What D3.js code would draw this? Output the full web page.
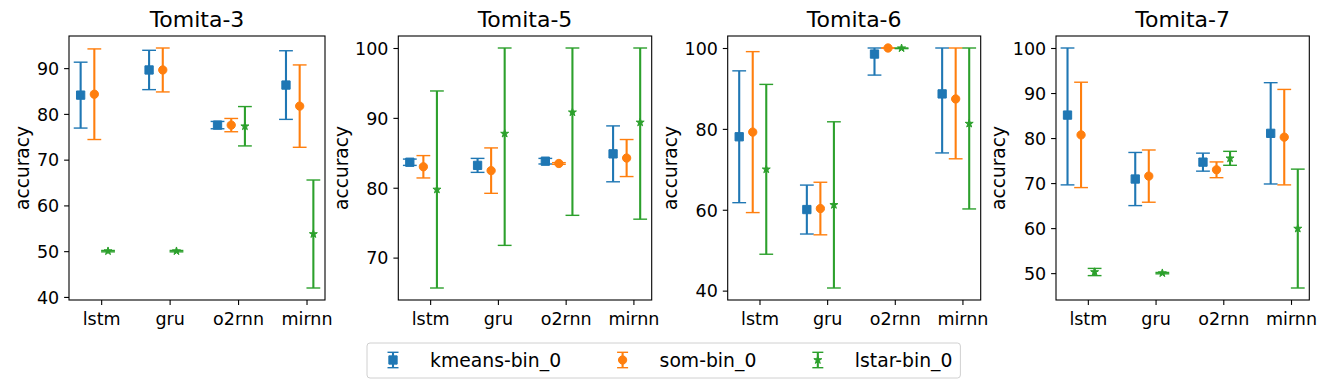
<!DOCTYPE html>
<html>
<head>
<meta charset="utf-8">
<script src="https://cdn.jsdelivr.net/npm/d3@7"></script>
<style>
body { margin: 0; background: #fff; }
text { font-family: "DejaVu Sans", sans-serif; fill: #000; }
</style>
</head>
<body>
<svg id="chart" width="1329" height="388"></svg>
<script>
const models = ["lstm", "gru", "o2rnn", "mirnn"];
const methods = ["kmeans-bin_0", "som-bin_0", "lstar-bin_0"];
const colors = ["#1f77b4", "#ff7f0e", "#2ca02c"];
const offsets = [-0.3, -0.1, 0.1];

// mean accuracy, rows = kmeans, som, lstar ; cols = lstm, gru, o2rnn, mirnn
const tomita3Mean = [[84.1, 89.6, 77.55, 86.3], [84.3, 89.6, 77.55, 81.7], [50.0, 50.0, 77.3, 53.75]];
const tomita3Std  = [[7.2, 4.3, 0.8, 7.5], [9.9, 4.8, 1.45, 9.0], [0.15, 0.15, 4.3, 11.8]];
const tomita5Mean = [[83.65, 83.2, 83.8, 84.85], [83.0, 82.45, 83.47, 84.25], [79.75, 87.75, 90.8, 89.35]];
const tomita5Std  = [[0.45, 1.0, 0.4, 4.0], [1.6, 3.25, 0.12, 2.65], [14.1, 16.0, 14.75, 13.85]];
const tomita6Mean = [[78.05, 60.05, 98.5, 88.65], [79.2, 60.3, 100.0, 87.4], [70.0, 61.2, 99.95, 81.3]];
const tomita6Std  = [[16.3, 6.05, 5.2, 14.6], [19.9, 6.5, 0.0, 14.8], [21.0, 20.55, 0.1, 21.1]];
const tomita7Mean = [[85.1, 70.9, 74.65, 81.05], [80.7, 71.55, 72.95, 80.2], [50.25, 50.0, 75.5, 59.9]];
const tomita7Std  = [[15.5, 5.9, 2.0, 11.25], [11.7, 5.8, 1.75, 10.6], [0.8, 0.15, 1.55, 13.2]];

const yTicks3 = [40, 50, 60, 70, 80, 90];
const yTicks5 = [70, 80, 90, 100];
const yTicks6 = [40, 60, 80, 100];
const yTicks7 = [50, 60, 70, 80, 90, 100];

const panels = [
    { title: "Tomita-3", mean: tomita3Mean, std: tomita3Std, ticks: yTicks3, left: 69, right: 325 },
    { title: "Tomita-5", mean: tomita5Mean, std: tomita5Std, ticks: yTicks5, left: 398.3, right: 651.7 },
    { title: "Tomita-6", mean: tomita6Mean, std: tomita6Std, ticks: yTicks6, left: 727.7, right: 980.7 },
    { title: "Tomita-7", mean: tomita7Mean, std: tomita7Std, ticks: yTicks7, left: 1056, right: 1309.3 }
];
const plotTop = 36, plotBottom = 300;
const capHalf = 6.9;

const svg = d3.select("#chart");

function markerPath(k) {
    if (k === 0) return d3.symbol(d3.symbolSquare, 8.3 * 8.3)();
    if (k === 1) return d3.symbol(d3.symbolCircle, Math.PI * 4.15 * 4.15)();
    return d3.symbol(d3.symbolStar, 4.2 * 4.2 / 0.8908)();
}

panels.forEach(p => {
    const xmin = d3.min(offsets), xmax = models.length - 1 + d3.max(offsets);
    const xpad = (xmax - xmin) * 0.05;
    const x = d3.scaleLinear().domain([xmin - xpad, xmax + xpad]).range([p.left, p.right]);

    // errorbar extents, upper end capped at 100
    const bars = [];
    p.mean.forEach((row, k) => row.forEach((m, i) => {
        const s = p.std[k][i];
        bars.push({ k, i, m, lo: m - s, hi: Math.min(100, m + s) });
    }));
    const ylo = d3.min(bars, d => d.lo), yhi = d3.max(bars, d => d.hi);
    const ypad = (yhi - ylo) * 0.05;
    const y = d3.scaleLinear().domain([ylo - ypad, yhi + ypad]).range([plotBottom, plotTop]);

    const g = svg.append("g");

    const xAxis = g.append("g")
        .attr("transform", `translate(0,${plotBottom})`)
        .call(d3.axisBottom(x).tickValues(d3.range(models.length)).tickFormat(i => models[i])
            .tickSize(4.9).tickSizeOuter(0).tickPadding(4.9));
    const yAxis = g.append("g")
        .attr("transform", `translate(${p.left},0)`)
        .call(d3.axisLeft(y).tickValues(p.ticks).tickSize(4.9).tickSizeOuter(0).tickPadding(4.9));
    [xAxis, yAxis].forEach(a => {
        a.select(".domain").remove();
        a.selectAll(".tick line").attr("stroke", "#000").attr("stroke-width", 1.1);
        a.selectAll(".tick text").attr("font-size", "17.5px").attr("font-family", "DejaVu Sans");
    });
    xAxis.selectAll(".tick text").attr("dy", "0.88em");
    yAxis.selectAll(".tick text").attr("dy", "0.36em");

    g.append("rect")
        .attr("x", p.left).attr("y", plotTop)
        .attr("width", p.right - p.left).attr("height", plotBottom - plotTop)
        .attr("fill", "none").attr("stroke", "#000").attr("stroke-width", 1.1);

    // bbox is in the axis group's own coords, so add the translate back
    const yb = yAxis.node().getBBox();
    g.append("text")
        .attr("transform", `translate(${p.left + yb.x - 14},${(plotTop + plotBottom) / 2}) rotate(-90)`)
        .attr("text-anchor", "middle")
        .attr("dominant-baseline", "central")
        .attr("font-size", "18.6px")
        .text("accuracy");

    g.append("text")
        .attr("x", (p.left + p.right) / 2).attr("y", 27)
        .attr("text-anchor", "middle")
        .attr("font-size", "22px")
        .text(p.title);

    methods.forEach((name, k) => {
        const sg = g.append("g");
        const data = bars.filter(d => d.k === k);
        const cx = d => x(d.i + offsets[k]);
        sg.selectAll("line.bar").data(data).enter().append("line")
            .attr("x1", cx).attr("x2", cx)
            .attr("y1", d => y(d.lo)).attr("y2", d => y(d.hi))
            .attr("stroke", colors[k]).attr("stroke-width", 2.1);
        ["lo", "hi"].forEach(end => {
            sg.selectAll("line.cap" + end).data(data).enter().append("line")
                .attr("x1", d => cx(d) - capHalf).attr("x2", d => cx(d) + capHalf)
                .attr("y1", d => y(d[end])).attr("y2", d => y(d[end]))
                .attr("stroke", colors[k]).attr("stroke-width", 1.4);
        });
        sg.selectAll("path").data(data).enter().append("path")
            .attr("d", markerPath(k))
            .attr("transform", d => `translate(${cx(d)},${y(d.m)})`)
            .attr("fill", colors[k]).attr("stroke", colors[k]).attr("stroke-width", 1);
    });
});

// legend
const leg = svg.append("g");
const legBox = leg.append("rect")
    .attr("y", 343).attr("height", 35).attr("rx", 3)
    .attr("fill", "#fff").attr("stroke", "#d0d0d0").attr("stroke-width", 1);
let mx = 393;
const ly = 360;
methods.forEach((name, k) => {
    leg.append("line").attr("x1", mx).attr("x2", mx).attr("y1", ly - 7.7).attr("y2", ly + 7.7)
        .attr("stroke", colors[k]).attr("stroke-width", 2.1);
    [-7.7, 7.7].forEach(dy => leg.append("line")
        .attr("x1", mx - 5.5).attr("x2", mx + 5.5).attr("y1", ly + dy).attr("y2", ly + dy)
        .attr("stroke", colors[k]).attr("stroke-width", 1.4));
    leg.append("path").attr("d", markerPath(k)).attr("transform", `translate(${mx},${ly})`)
        .attr("fill", colors[k]).attr("stroke", colors[k]).attr("stroke-width", 1);
    const t = leg.append("text").attr("x", mx + 37).attr("y", ly).attr("dy", "0.36em")
        .attr("font-size", "18.8px").text(name);
    const end = mx + 37 + t.node().getComputedTextLength();
    if (k === methods.length - 1) {
        legBox.attr("x", 367).attr("width", end + 8 - 367);
    }
    mx = end + 61.5;
});
</script>
</body>
</html>
